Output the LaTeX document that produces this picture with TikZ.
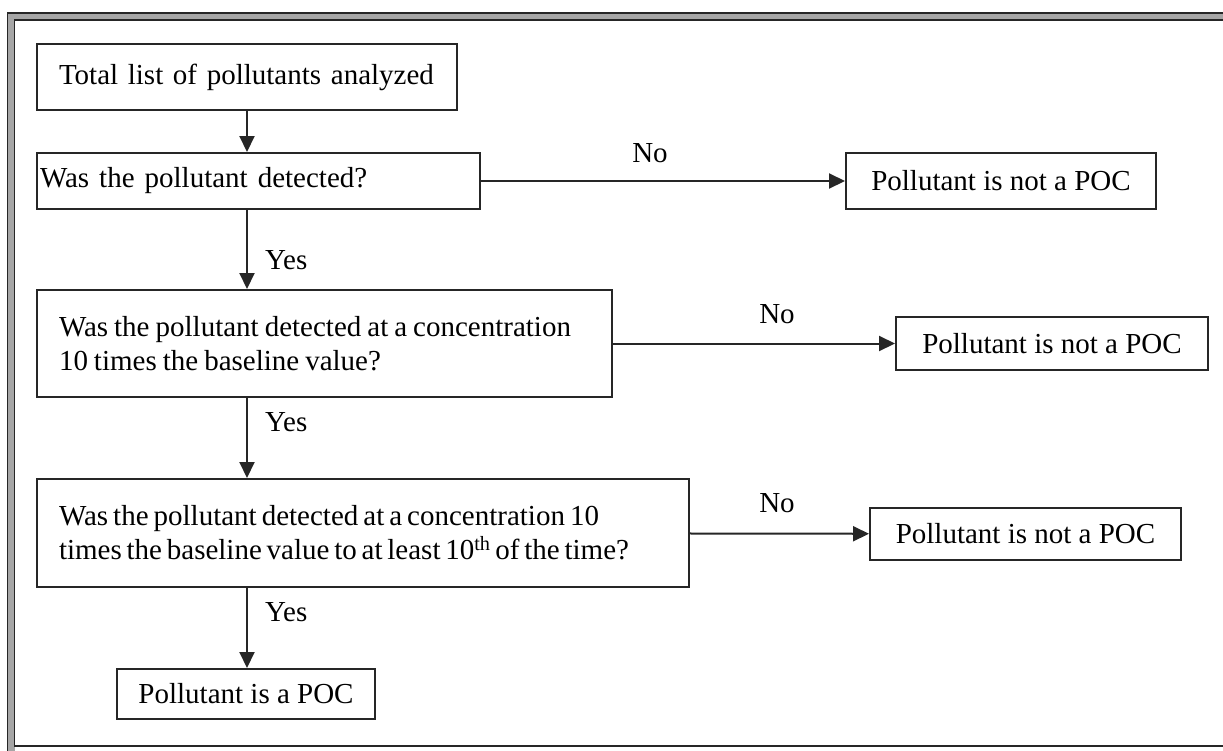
\documentclass[tikz,border=0pt]{standalone}
\usepackage{fontspec}
\setmainfont{Liberation Serif}
\usetikzlibrary{arrows.meta}
\begin{document}
\begin{tikzpicture}[x=1pt,y=-1pt,
  txt/.style={font=\fontsize{29}{34}\selectfont},
  box/.style={txt, draw=black!85, line width=2pt, anchor=north west, inner ysep=0pt, align=left},
  cbox/.style={txt, draw=black!85, line width=2pt, anchor=north west, inner sep=0pt, align=center},
  arr/.style={line width=2pt, draw=black!85, -{Triangle[length=16pt,width=15pt]}},
  lbl/.style={txt, inner sep=0pt}]
\useasboundingbox (0,0) rectangle (1223,750);
\fill[white] (0,0) rectangle (1223,750);
\begin{scope}
\clip (0,0) rectangle (1223,750);
\draw[gray!70, line width=8pt] (11,16.5) rectangle (1240,760);
\draw[black!85, line width=1.6pt] (7.5,13) rectangle (1240,765);
\draw[black!85, line width=1.6pt] (14.5,20) rectangle (1240,746);
\end{scope}

\node[box, inner xsep=22pt, text width=376pt, minimum width=420pt, minimum height=66pt] (b1) at (36,43) {\mbox{Total list of pollutants analyzed}};
\node[box, inner xsep=3pt, text width=437pt, minimum width=443pt, minimum height=56pt] (b2) at (36,152) {\mbox{\spaceskip=10pt Was the pollutant detected?}};
\node[box, inner xsep=22pt, text width=531pt, minimum width=575pt, minimum height=107pt] (b3) at (36,289) {\mbox{\spaceskip=6pt Was the pollutant detected at a concentration}\\\mbox{\spaceskip=6pt 10 times the baseline value?}};
\node[box, inner xsep=22pt, text width=608pt, minimum width=652pt, minimum height=108pt] (b4) at (36,478) {\mbox{\spaceskip=5pt Was the pollutant detected at a concentration 10}\\\mbox{\spaceskip=4.8pt times the baseline value to at least 10\textsuperscript{th} of the time?}};
\node[cbox, minimum width=258pt, minimum height=50pt] (b5) at (116,668) {Pollutant is a POC};

\node[cbox, minimum width=310pt, minimum height=56pt] (na) at (845,152) {Pollutant is not a POC};
\node[cbox, minimum width=312pt, minimum height=53pt] (nb) at (895,316) {Pollutant is not a POC};
\node[cbox, minimum width=311pt, minimum height=52pt] (nc) at (869,507) {Pollutant is not a POC};

\draw[arr] (b1.south) -- (b1.south |- b2.north);
\draw[arr] (b1.south |- b2.south) -- (b1.south |- b3.north);
\draw[arr] (b1.south |- b3.south) -- (b1.south |- b4.north);
\draw[arr] (b1.south |- b4.south) -- (b1.south |- b5.north);

\draw[arr] (b2) -- (na);
\draw[arr] (b3) -- (nb);
\draw[arr] (b4) -- (nc);

\node[lbl] (no1) at (650,153) {No};
\node[lbl] (no2) at (777,314) {No};
\node[lbl] (no3) at (777,503) {No};
\node[lbl, anchor=west] (y1) at (265,260) {Yes};
\node[lbl, anchor=west] (y2) at (265,422) {Yes};
\node[lbl, anchor=west] (y3) at (265,612) {Yes};
\end{tikzpicture}
\end{document}
